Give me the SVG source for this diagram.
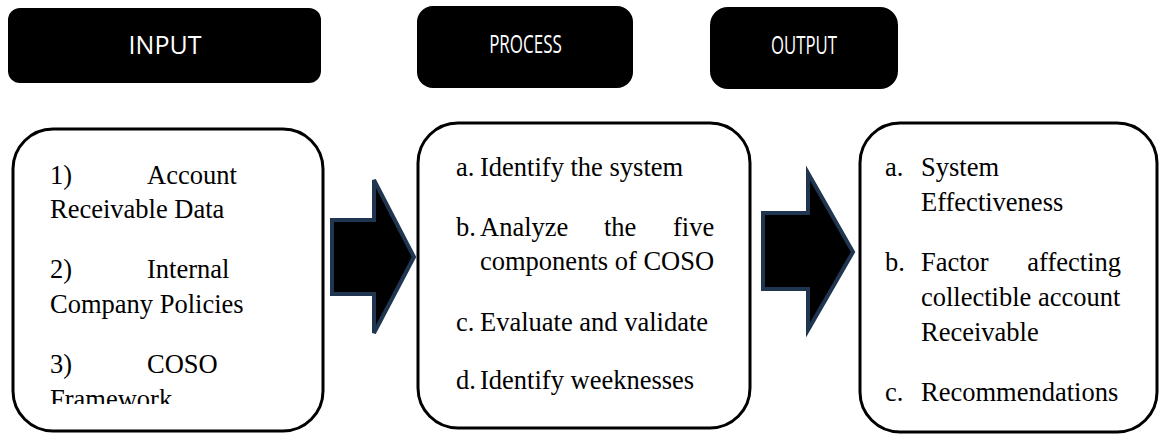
<svg xmlns="http://www.w3.org/2000/svg" width="1163" height="437" viewBox="0 0 1163 437">
  <style>
    .hdr { fill: #000; }
    .hdr-txt { fill: #fff; font-family: "Open Sans", "Liberation Sans", sans-serif; font-size: 25px; text-anchor: middle; }
    .box { fill: #fff; stroke: #000; stroke-width: 3; }
    .body { fill: #000; font-family: "Liberation Serif", "Times New Roman", serif; font-size: 26.5px; }
    .arrow { fill: #000; stroke: #1f3550; stroke-width: 4; stroke-linejoin: miter; }
  </style>
  <defs>
    <clipPath id="input-clip">
      <rect x="13" y="129" width="310" height="275"/>
    </clipPath>
  </defs>

  <!-- column headers -->
  <g id="header-input">
    <rect class="hdr" x="8" y="8" width="313" height="75" rx="12"/>
    <text class="hdr-txt" transform="translate(165,54)">INPUT</text>
  </g>
  <g id="header-process">
    <rect class="hdr" x="417" y="6" width="216" height="82" rx="16"/>
    <text class="hdr-txt" transform="translate(525.5,53) scale(0.68,1)">PROCESS</text>
  </g>
  <g id="header-output">
    <rect class="hdr" x="710" y="7" width="188" height="82" rx="18"/>
    <text class="hdr-txt" transform="translate(804,54) scale(0.67,1)">OUTPUT</text>
  </g>

  <!-- input box -->
  <g id="input">
    <rect class="box" x="13" y="129" width="310" height="302" rx="40"/>
    <g clip-path="url(#input-clip)">
      <text class="body" x="50" y="184">1)</text>
      <text class="body" x="147" y="184">Account</text>
      <text class="body" x="50" y="218">Receivable Data</text>
      <text class="body" x="50" y="278">2)</text>
      <text class="body" x="147" y="278">Internal</text>
      <text class="body" x="50" y="313">Company Policies</text>
      <text class="body" x="50" y="373">3)</text>
      <text class="body" x="147" y="373">COSO</text>
      <text class="body" x="50" y="408">Framework</text>
    </g>
  </g>

  <!-- process box -->
  <g id="process">
    <rect class="box" x="418" y="123" width="332" height="305" rx="40"/>
    <text class="body" x="456" y="176">a.</text>
    <text class="body" x="480" y="176">Identify the system</text>
    <text class="body" x="456" y="236">b.</text>
    <text class="body" x="480" y="236">Analyze</text>
    <text class="body" x="604" y="236">the</text>
    <text class="body" x="673" y="236">five</text>
    <text class="body" x="480" y="270">components of COSO</text>
    <text class="body" x="456" y="331">c.</text>
    <text class="body" x="480" y="331">Evaluate and validate</text>
    <text class="body" x="456" y="389">d.</text>
    <text class="body" x="480" y="389">Identify weeknesses</text>
  </g>

  <!-- output box -->
  <g id="output">
    <rect class="box" x="860" y="123" width="297" height="309" rx="40"/>
    <text class="body" x="885" y="176">a.</text>
    <text class="body" x="921" y="176">System</text>
    <text class="body" x="921" y="211">Effectiveness</text>
    <text class="body" x="885" y="271">b.</text>
    <text class="body" x="921" y="271">Factor</text>
    <text class="body" x="1121" y="271" text-anchor="end">affecting</text>
    <text class="body" x="921" y="306">collectible account</text>
    <text class="body" x="921" y="341">Receivable</text>
    <text class="body" x="885" y="401">c.</text>
    <text class="body" x="921" y="401">Recommendations</text>
  </g>

  <!-- block arrows between the stages -->
  <g id="connectors">
    <path class="arrow" d="M332,220 H374 V180 L414,257 L374,333 V294 H332 Z"/>
    <path class="arrow" d="M763,213 H808 V173 L853,252 L808,330 V289 H763 Z"/>
  </g>
</svg>
